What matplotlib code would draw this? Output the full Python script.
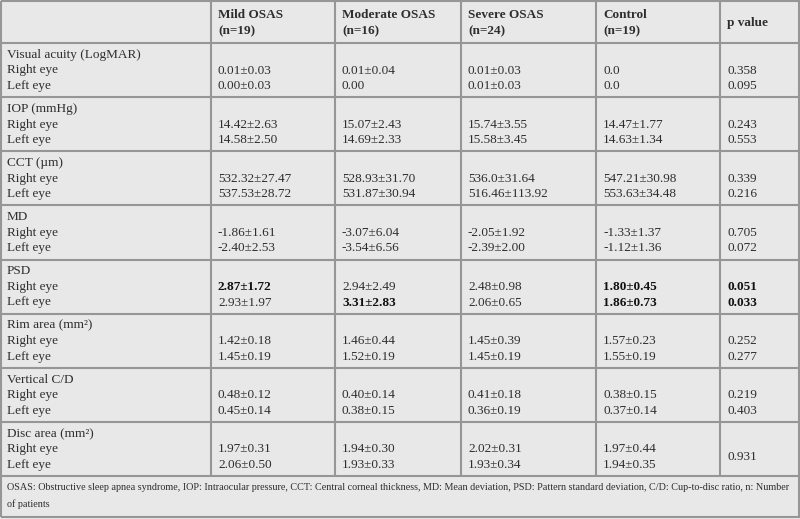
import matplotlib
matplotlib.use("Agg")
import matplotlib.pyplot as plt

# ---- data ----
headers = ["Mild OSAS\n(n=19)", "Moderate OSAS\n(n=16)", "Severe OSAS\n(n=24)", "Control\n(n=19)", "p value"]
parameters = ["Visual acuity (LogMAR)", "IOP (mmHg)", "CCT (\u00b5m)", "MD", "PSD",
              "Rim area (mm\u00b2)", "Vertical C/D", "Disc area (mm\u00b2)"]
eyes = ["Right eye", "Left eye"]

mild = [("0.01\u00b10.03", "0.00\u00b10.03"), ("14.42\u00b12.63", "14.58\u00b12.50"),
        ("532.32\u00b127.47", "537.53\u00b128.72"), ("-1.86\u00b11.61", "-2.40\u00b12.53"),
        ("2.87\u00b11.72", "2.93\u00b11.97"), ("1.42\u00b10.18", "1.45\u00b10.19"),
        ("0.48\u00b10.12", "0.45\u00b10.14"), ("1.97\u00b10.31", "2.06\u00b10.50")]
moderate = [("0.01\u00b10.04", "0.00"), ("15.07\u00b12.43", "14.69\u00b12.33"),
            ("528.93\u00b131.70", "531.87\u00b130.94"), ("-3.07\u00b16.04", "-3.54\u00b16.56"),
            ("2.94\u00b12.49", "3.31\u00b12.83"), ("1.46\u00b10.44", "1.52\u00b10.19"),
            ("0.40\u00b10.14", "0.38\u00b10.15"), ("1.94\u00b10.30", "1.93\u00b10.33")]
severe = [("0.01\u00b10.03", "0.01\u00b10.03"), ("15.74\u00b13.55", "15.58\u00b13.45"),
          ("536.0\u00b131.64", "516.46\u00b1113.92"), ("-2.05\u00b11.92", "-2.39\u00b12.00"),
          ("2.48\u00b10.98", "2.06\u00b10.65"), ("1.45\u00b10.39", "1.45\u00b10.19"),
          ("0.41\u00b10.18", "0.36\u00b10.19"), ("2.02\u00b10.31", "1.93\u00b10.34")]
control = [("0.0", "0.0"), ("14.47\u00b11.77", "14.63\u00b11.34"),
           ("547.21\u00b130.98", "553.63\u00b134.48"), ("-1.33\u00b11.37", "-1.12\u00b11.36"),
           ("1.80\u00b10.45", "1.86\u00b10.73"), ("1.57\u00b10.23", "1.55\u00b10.19"),
           ("0.38\u00b10.15", "0.37\u00b10.14"), ("1.97\u00b10.44", "1.94\u00b10.35")]
pvalues = [("0.358", "0.095"), ("0.243", "0.553"), ("0.339", "0.216"), ("0.705", "0.072"),
           ("0.051", "0.033"), ("0.252", "0.277"), ("0.219", "0.403"), ("0.931",)]
# bold cells: (column index 0..4, parameter index, eye index)
bold_cells = {(0, 4, 0), (1, 4, 1), (3, 4, 0), (3, 4, 1), (4, 4, 0), (4, 4, 1)}
footnote = ["OSAS: Obstructive sleep apnea syndrome, IOP: Intraocular pressure, CCT: Central corneal thickness, MD: Mean deviation, PSD: Pattern standard deviation, C/D: Cup-to-disc ratio, n: Number",
            "of patients"]

# ---- layout ----
W, H = 800, 519
fig = plt.figure(figsize=(W / 100, H / 100), dpi=100)
ax = fig.add_axes([0, 0, 1, 1])
ax.set_xlim(0, W)
ax.set_ylim(H, 0)
ax.axis("off")
bg = "#e8e8e8"
fig.patch.set_facecolor(bg)
line_c = "#969696"
txt_c = "#2e2e2e"
font = "Liberation Serif"
fs = 9.5

col_x = [0, 211, 335, 461, 596, 720, 799]
header_bottom = 43
sec_h = 54.125
table_bottom = header_bottom + 8 * sec_h
bottom = 517

# lines
lw = 1.5
ax.hlines([1, header_bottom] + [header_bottom + i * sec_h for i in range(1, 9)] + [bottom],
          0.5, 799.5, color=line_c, lw=lw)
ax.vlines([0.8, 799.2], 1, bottom, color=line_c, lw=lw)
ax.vlines(col_x[1:-1], 1, table_bottom, color=line_c, lw=lw)

# header
for j, h in enumerate(headers):
    x = col_x[j + 1] + 7
    lines = h.split("\n")
    if len(lines) == 2:
        ax.text(x, 15, lines[0], ha="left", va="center", fontsize=fs, family=font,
                weight="bold", color=txt_c)
        ax.text(x, 31, lines[1], ha="left", va="center", fontsize=fs, family=font,
                weight="bold", color=txt_c)
    else:
        ax.text(x, 23, h, ha="left", va="center", fontsize=fs, family=font,
                weight="bold", color=txt_c)

columns = [mild, moderate, severe, control, pvalues]
for i, p in enumerate(parameters):
    top = header_bottom + i * sec_h
    ys = [top + 12, top + 27.5, top + 43]
    ax.text(7, ys[0], p, ha="left", va="center", fontsize=fs, family=font, color=txt_c)
    for k, e in enumerate(eyes):
        ax.text(7, ys[k + 1], e, ha="left", va="center", fontsize=fs, family=font, color=txt_c)
    for j, col in enumerate(columns):
        vals = col[i]
        x = col_x[j + 1] + 7
        if len(vals) == 1:
            ax.text(x, (ys[1] + ys[2]) / 2, vals[0], ha="left", va="center", fontsize=fs,
                    family=font, color=txt_c)
        else:
            for k, v in enumerate(vals):
                b = (j, i, k) in bold_cells
                ax.text(x, ys[k + 1], v, ha="left", va="center", fontsize=fs, family=font,
                        color="#111111" if b else txt_c, weight="bold" if b else "normal")

ax.text(7, 488, footnote[0], ha="left", va="center", fontsize=7.3, family=font, color=txt_c)
ax.text(7, 504, footnote[1], ha="left", va="center", fontsize=7.3, family=font, color=txt_c)

fig.savefig("out.png", dpi=100, facecolor=bg)
